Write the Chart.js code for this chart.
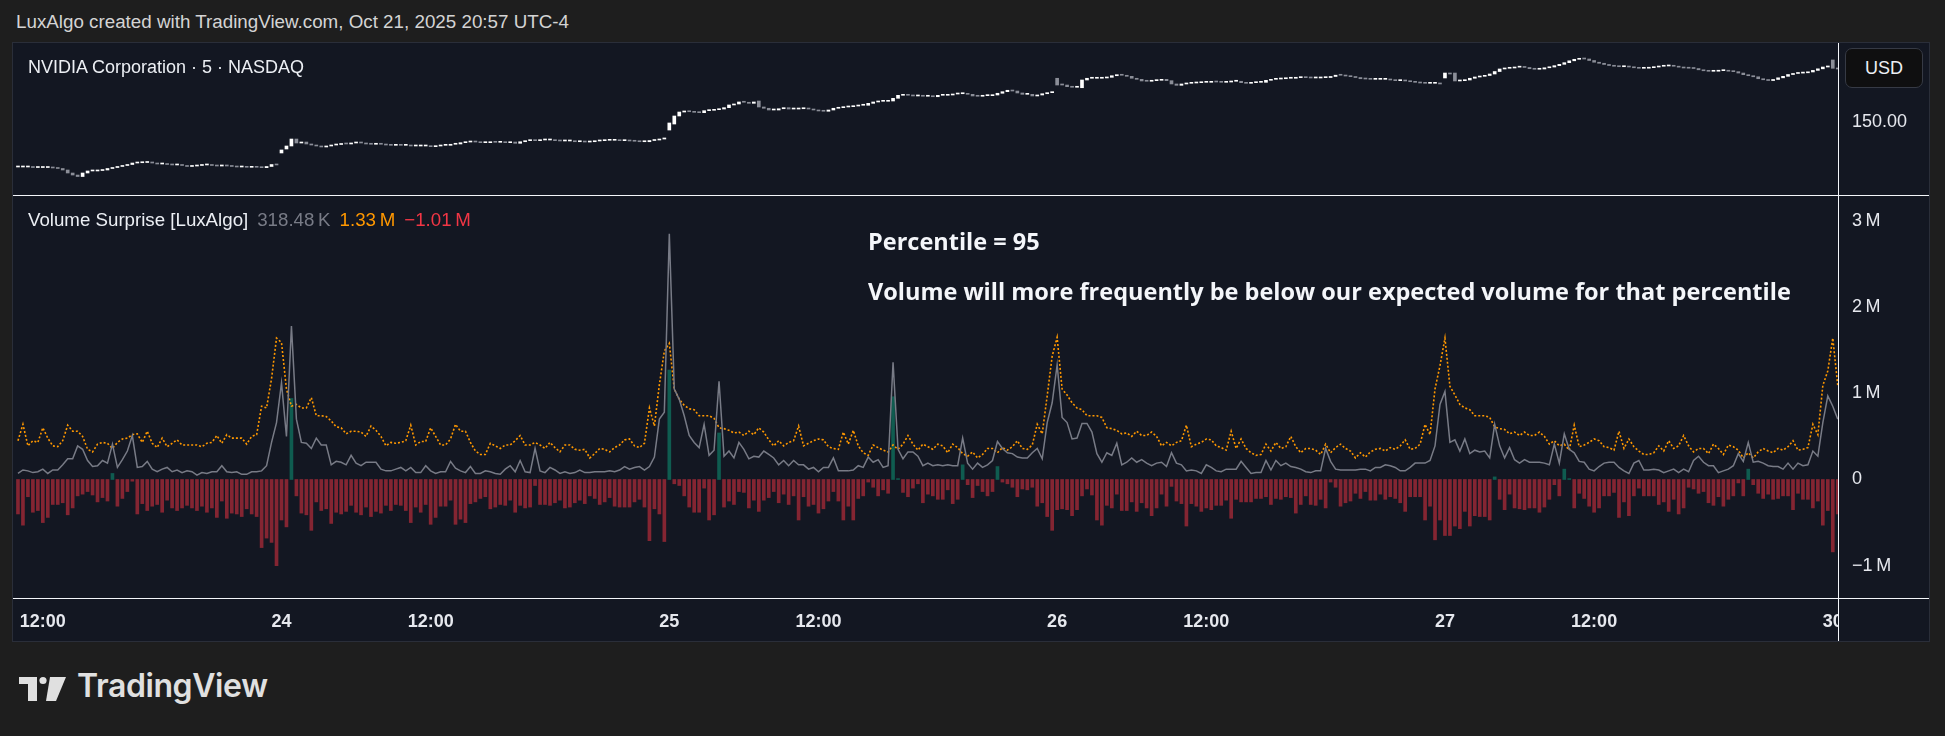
<!DOCTYPE html>
<html>
<head>
<meta charset="utf-8">
<script src="https://cdn.jsdelivr.net/npm/chart.js@4.4.1/dist/chart.umd.min.js"></script>
<style>
  body { margin: 0; background: #1e1e1e; width: 1945px; height: 736px; overflow: hidden;
         font-family: "Liberation Sans", Arial, sans-serif; color: #e6e8ee; }
  .abs { position: absolute; white-space: nowrap; }
  #header { left: 16px; top: 10px; font-size: 18.8px; line-height: 24px; color: #d4d4d4; }
  #frame { left: 12px; top: 42px; width: 1916px; height: 598px; border: 1px solid #2a2e39; background: #131722; }
  #priceCanvas { position: absolute; left: 13px; top: 43px; }
  #volCanvas { position: absolute; left: 13px; top: 196px; }
  .hline { position: absolute; left: 13px; width: 1916px; height: 1px; background: #f4f6fa; }
  #vline { position: absolute; left: 1838px; top: 43px; width: 1px; height: 598px; background: #f4f6fa; }
  #timeMask { position: absolute; left: 1839px; top: 599px; width: 90px; height: 42px; background: #131722; }
  #symbol { left: 28px; top: 55px; font-size: 18px; line-height: 24px; color: #eceff4; }
  #legend { left: 28px; top: 208px; font-size: 18.7px; line-height: 24px; color: #eceff4; }
  #legend span { margin-left: 9px; }
  .note { left: 868px; font-family: "Open Sans", sans-serif; font-weight: 700; font-size: 23.5px; line-height: 30px; color: #f4f6fa; }
  #usd { left: 1845px; top: 48px; width: 76px; height: 38px; border: 1px solid #363a45; border-radius: 7px;
         background: #0f0f10; font-size: 18px; line-height: 38px; text-align: center; color: #eceff4; }
  #brand { left: 77px; top: 666px; font-family: Inter, sans-serif; font-weight: 600; font-size: 32px; line-height: 40px; color: #e0e0e0; letter-spacing: -0.4px; }
</style>
</head>
<body>
<div id="header" class="abs">LuxAlgo created with TradingView.com, Oct 21, 2025 20:57 UTC-4</div>
<div id="frame" class="abs"></div>
<canvas id="priceCanvas" width="1916" height="152"></canvas>
<canvas id="volCanvas" width="1916" height="445"></canvas>
<div id="timeMask"></div>
<div class="hline" style="top:195px"></div>
<div class="hline" style="top:598px"></div>
<div id="vline"></div>
<div id="symbol" class="abs">NVIDIA Corporation · 5 · NASDAQ</div>
<div id="legend" class="abs">Volume Surprise [LuxAlgo]<span style="color:#787b86">318.48&#8201;K</span><span style="color:#ff9800">1.33&#8201;M</span><span style="color:#f23645">−1.01&#8201;M</span></div>
<div class="abs note" style="top:226px">Percentile = 95</div>
<div class="abs note" style="top:276px">Volume will more frequently be below our expected volume for that percentile</div>
<div id="usd" class="abs">USD</div>
<svg class="abs" style="left:18px;top:676px" width="50" height="25" viewBox="0 0 50 25">
  <path d="M1 1h18v24h-9V8H1z" fill="#e0e0e0"/>
  <circle cx="25" cy="4.5" r="3.6" fill="#e0e0e0"/>
  <path d="M32 1h16l-10 24h-10z" fill="#e0e0e0"/>
</svg>
<div id="brand" class="abs">TradingView</div>

<script>
// 5 minute bars, Jun 23 11:35 .. Jun 30 09:35 (regular session only)
var tickBars = [5, 53, 83, 131, 161, 209, 239, 287, 317, 365];
var tickLabels = ["12:00", "24", "12:00", "25", "12:00", "26", "12:00", "27", "12:00", "30"];
var priceTicks = [150];
var volTicks = [-1, 0, 1, 2, 3];

// NVDA candles (USD)
var opens = [
144.00,144.00,144.00,144.00,143.93,143.93,143.93,143.93,143.87,143.80,
143.60,143.20,142.93,142.73,143.20,143.47,143.47,143.53,143.60,143.80,
143.93,144.07,144.20,144.33,144.53,144.57,144.60,144.67,144.53,144.40,
144.40,144.33,144.27,144.27,144.20,144.07,144.13,144.20,144.27,144.27,
144.20,144.13,144.27,144.13,144.07,144.00,144.00,143.96,144.00,143.96,
143.91,144.07,144.33,145.87,146.40,146.80,147.73,147.20,147.33,147.07,
146.93,146.80,146.67,146.80,146.93,147.00,147.13,147.07,147.20,147.33,
147.20,147.07,147.03,147.07,147.03,146.93,146.89,146.93,146.89,146.89,
146.80,146.80,146.80,146.80,146.71,146.80,146.89,146.89,147.03,147.07,
147.24,147.33,147.43,147.33,147.24,147.24,147.33,147.29,147.29,147.24,
147.33,147.16,147.37,147.51,147.60,147.51,147.60,147.60,147.60,147.51,
147.47,147.47,147.47,147.37,147.37,147.33,147.37,147.47,147.51,147.56,
147.56,147.60,147.51,147.51,147.47,147.43,147.37,147.37,147.53,147.60,
147.73,148.93,149.73,150.80,151.33,151.47,151.37,151.29,151.24,151.51,
151.56,151.64,151.73,151.91,152.27,152.40,152.67,152.63,152.49,152.80,
152.00,151.83,151.60,151.60,151.77,151.91,151.73,151.73,151.77,151.83,
151.73,151.60,151.47,151.43,151.60,151.83,151.91,152.00,152.04,152.13,
152.23,152.23,152.49,152.67,152.76,152.76,152.80,153.16,153.56,153.69,
153.56,153.47,153.47,153.43,153.47,153.37,153.56,153.56,153.60,153.73,
153.77,153.77,153.69,153.47,153.43,153.51,153.51,153.60,153.83,154.04,
154.23,154.13,153.87,153.69,153.69,153.47,153.60,153.77,153.91,155.83,
155.07,154.93,154.71,154.63,154.57,155.60,155.83,155.83,155.83,155.87,
155.96,156.17,156.31,156.23,156.09,155.83,155.69,155.47,155.43,155.51,
155.56,155.69,155.51,155.07,154.89,155.07,155.16,155.20,155.24,155.29,
155.29,155.37,155.33,155.29,155.33,155.43,155.43,155.24,155.16,155.24,
155.29,155.29,155.56,155.69,155.73,155.77,155.83,155.83,155.91,155.93,
155.91,155.87,155.87,155.91,155.93,156.07,156.24,156.23,156.13,156.04,
155.93,155.77,155.73,155.69,155.69,155.69,155.69,155.60,155.51,155.51,
155.47,155.37,155.29,155.20,155.16,155.16,155.16,155.87,156.53,156.53,
155.47,155.51,155.60,155.83,156.00,156.09,156.20,156.40,156.73,157.07,
157.16,157.20,157.31,157.37,157.27,157.11,157.03,157.07,157.23,157.33,
157.51,157.69,157.91,158.16,158.36,158.44,158.40,158.20,157.97,157.83,
157.67,157.53,157.43,157.37,157.37,157.33,157.23,157.16,157.17,157.24,
157.33,157.43,157.47,157.47,157.43,157.31,157.20,157.17,157.13,156.96,
156.83,156.76,156.77,156.84,156.84,156.77,156.71,156.53,156.31,156.17,
156.03,155.77,155.63,155.53,155.67,155.89,156.09,156.33,156.47,156.52,
156.56,156.67,156.88,157.09,157.33,158.27,157.16
];
var closes = [
144.00,144.00,144.00,143.93,143.93,143.93,143.93,143.87,143.80,143.60,
143.20,142.93,142.73,143.20,143.47,143.47,143.53,143.60,143.80,143.93,
144.07,144.20,144.33,144.53,144.57,144.60,144.67,144.53,144.40,144.40,
144.33,144.27,144.27,144.20,144.07,144.13,144.20,144.27,144.27,144.20,
144.13,144.27,144.13,144.07,144.00,144.00,143.96,144.00,143.96,143.91,
144.07,144.33,144.27,146.27,146.80,147.73,147.20,147.33,147.07,146.93,
146.80,146.67,146.80,146.93,147.00,147.13,147.07,147.20,147.33,147.20,
147.07,147.03,147.07,147.03,146.93,146.89,146.93,146.89,146.89,146.80,
146.80,146.80,146.80,146.71,146.80,146.89,146.89,147.03,147.07,147.24,
147.33,147.43,147.33,147.24,147.24,147.33,147.29,147.29,147.24,147.33,
147.16,147.37,147.51,147.60,147.51,147.60,147.60,147.60,147.51,147.47,
147.47,147.47,147.37,147.37,147.33,147.37,147.47,147.51,147.56,147.56,
147.60,147.51,147.51,147.47,147.43,147.37,147.37,147.53,147.60,147.73,
147.87,149.87,150.80,151.33,151.47,151.37,151.29,151.24,151.51,151.56,
151.64,151.73,151.91,152.27,152.40,152.67,152.63,152.49,152.67,152.00,
151.83,151.60,151.60,151.77,151.91,151.73,151.73,151.77,151.83,151.73,
151.60,151.47,151.43,151.60,151.83,151.91,152.00,152.04,152.13,152.23,
152.23,152.49,152.67,152.76,152.76,152.80,153.16,153.56,153.69,153.56,
153.47,153.47,153.43,153.47,153.37,153.56,153.56,153.60,153.73,153.77,
153.77,153.69,153.47,153.43,153.51,153.51,153.60,153.83,154.04,154.23,
154.13,153.87,153.69,153.69,153.47,153.60,153.77,153.91,154.04,154.93,
154.93,154.71,154.63,154.63,155.60,155.83,155.83,155.83,155.87,155.96,
156.17,156.31,156.23,156.09,155.83,155.69,155.47,155.43,155.51,155.56,
155.69,155.51,155.07,154.89,155.07,155.16,155.20,155.24,155.29,155.29,
155.37,155.33,155.29,155.33,155.43,155.43,155.24,155.16,155.24,155.29,
155.29,155.56,155.69,155.73,155.77,155.83,155.83,155.91,155.93,155.91,
155.87,155.87,155.91,155.93,156.07,156.24,156.23,156.13,156.04,155.93,
155.77,155.73,155.69,155.69,155.69,155.69,155.60,155.51,155.51,155.47,
155.37,155.29,155.20,155.16,155.16,155.16,155.07,156.53,156.40,155.47,
155.51,155.60,155.83,156.00,156.09,156.20,156.40,156.73,157.07,157.16,
157.20,157.31,157.37,157.27,157.11,157.03,157.07,157.23,157.33,157.51,
157.69,157.91,158.16,158.36,158.44,158.40,158.20,157.97,157.83,157.67,
157.53,157.43,157.37,157.37,157.33,157.23,157.16,157.17,157.24,157.33,
157.43,157.47,157.47,157.43,157.31,157.20,157.17,157.13,156.96,156.83,
156.76,156.77,156.84,156.84,156.77,156.71,156.53,156.31,156.17,156.03,
155.77,155.63,155.53,155.67,155.89,156.09,156.33,156.47,156.52,156.56,
156.67,156.88,157.09,157.33,157.47,157.16,157.07
];

// Volume Surprise (millions of shares)
var volume = [
0.07,0.11,0.10,0.08,0.09,0.12,0.07,0.11,0.11,0.17,
0.24,0.24,0.39,0.35,0.22,0.15,0.16,0.22,0.19,0.41,
0.14,0.23,0.33,0.51,0.14,0.15,0.21,0.12,0.09,0.12,
0.14,0.09,0.11,0.08,0.10,0.09,0.05,0.08,0.07,0.09,
0.09,0.16,0.09,0.08,0.09,0.06,0.06,0.09,0.09,0.10,
0.16,0.43,0.66,1.12,0.50,1.78,0.70,0.43,0.42,0.36,
0.48,0.40,0.40,0.17,0.21,0.20,0.17,0.28,0.19,0.16,
0.20,0.20,0.20,0.12,0.10,0.10,0.12,0.14,0.10,0.14,
0.08,0.08,0.16,0.10,0.07,0.09,0.09,0.21,0.13,0.10,
0.08,0.15,0.07,0.07,0.10,0.09,0.07,0.06,0.12,0.16,
0.09,0.22,0.09,0.08,0.36,0.10,0.08,0.14,0.11,0.07,
0.09,0.07,0.08,0.11,0.08,0.08,0.09,0.09,0.09,0.10,
0.09,0.11,0.15,0.12,0.14,0.15,0.11,0.15,0.26,0.70,
0.78,2.85,1.05,0.93,0.74,0.51,0.43,0.37,0.64,0.28,
0.34,1.14,0.27,0.33,0.25,0.43,0.35,0.24,0.27,0.26,
0.33,0.29,0.25,0.17,0.22,0.16,0.22,0.17,0.17,0.12,
0.14,0.09,0.14,0.14,0.25,0.10,0.10,0.10,0.11,0.16,
0.14,0.26,0.20,0.23,0.14,0.16,1.36,0.35,0.24,0.32,
0.32,0.27,0.16,0.19,0.16,0.17,0.16,0.17,0.16,0.16,
0.48,0.19,0.12,0.19,0.14,0.17,0.22,0.44,0.36,0.31,
0.30,0.26,0.25,0.25,0.31,0.36,0.24,0.66,0.89,1.33,
0.72,0.66,0.47,0.48,0.65,0.65,0.55,0.30,0.20,0.31,
0.28,0.42,0.17,0.20,0.25,0.20,0.23,0.19,0.16,0.19,
0.20,0.15,0.31,0.19,0.17,0.10,0.11,0.10,0.07,0.17,
0.14,0.10,0.09,0.12,0.12,0.12,0.21,0.14,0.07,0.08,
0.08,0.22,0.11,0.22,0.16,0.19,0.15,0.14,0.12,0.09,
0.08,0.10,0.10,0.36,0.21,0.12,0.11,0.11,0.11,0.11,
0.12,0.12,0.10,0.14,0.14,0.17,0.16,0.14,0.10,0.10,
0.14,0.19,0.19,0.19,0.22,0.39,0.87,1.02,0.43,0.46,
0.33,0.47,0.30,0.34,0.32,0.33,0.25,0.64,0.39,0.25,
0.37,0.23,0.19,0.23,0.20,0.20,0.20,0.19,0.17,0.41,
0.19,0.53,0.35,0.31,0.21,0.20,0.12,0.10,0.15,0.19,
0.20,0.20,0.14,0.10,0.07,0.19,0.22,0.11,0.11,0.12,
0.11,0.08,0.10,0.12,0.08,0.12,0.09,0.22,0.27,0.20,
0.16,0.16,0.08,0.10,0.12,0.16,0.30,0.21,0.43,0.20,
0.21,0.19,0.16,0.15,0.15,0.12,0.19,0.12,0.19,0.16,
0.17,0.33,0.27,0.66,0.97,0.85,0.70
];
var expected = [
0.45,0.64,0.39,0.45,0.43,0.60,0.48,0.39,0.38,0.45,
0.63,0.56,0.56,0.50,0.35,0.32,0.41,0.43,0.42,0.36,
0.43,0.47,0.48,0.52,0.53,0.43,0.56,0.42,0.37,0.48,
0.38,0.42,0.46,0.40,0.40,0.40,0.40,0.38,0.42,0.43,
0.51,0.42,0.52,0.48,0.48,0.48,0.41,0.50,0.52,0.85,
0.83,1.17,1.64,1.59,1.05,0.85,0.87,0.83,0.83,0.95,
0.74,0.74,0.73,0.68,0.61,0.60,0.53,0.56,0.56,0.55,
0.50,0.62,0.57,0.50,0.39,0.43,0.42,0.43,0.45,0.63,
0.40,0.44,0.44,0.60,0.50,0.40,0.40,0.47,0.64,0.56,
0.56,0.43,0.33,0.29,0.29,0.42,0.39,0.36,0.40,0.40,
0.45,0.51,0.40,0.40,0.43,0.40,0.36,0.43,0.37,0.32,
0.40,0.40,0.35,0.34,0.35,0.25,0.30,0.36,0.35,0.32,
0.37,0.40,0.46,0.47,0.39,0.37,0.42,0.83,0.62,1.10,
1.49,1.58,1.05,0.93,0.86,0.82,0.81,0.74,0.74,0.74,
0.71,0.60,0.59,0.57,0.54,0.55,0.51,0.56,0.52,0.60,
0.55,0.46,0.39,0.45,0.39,0.43,0.45,0.62,0.39,0.42,
0.45,0.47,0.46,0.38,0.36,0.35,0.55,0.41,0.57,0.39,
0.31,0.28,0.40,0.37,0.34,0.32,0.40,0.35,0.41,0.51,
0.41,0.34,0.41,0.38,0.35,0.41,0.39,0.31,0.41,0.37,
0.30,0.27,0.32,0.25,0.29,0.36,0.36,0.31,0.37,0.34,
0.38,0.45,0.36,0.35,0.40,0.64,0.53,0.97,1.43,1.65,
1.05,0.98,0.89,0.83,0.81,0.74,0.74,0.74,0.72,0.60,
0.59,0.57,0.53,0.54,0.50,0.56,0.51,0.51,0.55,0.50,
0.39,0.43,0.39,0.43,0.45,0.63,0.38,0.41,0.43,0.47,
0.46,0.39,0.37,0.34,0.56,0.36,0.47,0.36,0.31,0.28,
0.29,0.41,0.33,0.43,0.36,0.38,0.50,0.38,0.31,0.36,
0.36,0.34,0.29,0.41,0.31,0.37,0.41,0.36,0.33,0.25,
0.31,0.26,0.32,0.35,0.36,0.33,0.37,0.35,0.39,0.46,
0.35,0.36,0.41,0.64,0.52,1.05,1.32,1.64,1.08,0.98,
0.87,0.83,0.81,0.74,0.74,0.74,0.72,0.61,0.59,0.58,
0.53,0.55,0.51,0.55,0.51,0.51,0.55,0.50,0.41,0.45,
0.39,0.41,0.34,0.63,0.38,0.40,0.43,0.47,0.45,0.38,
0.37,0.34,0.56,0.36,0.47,0.38,0.33,0.29,0.29,0.31,
0.39,0.33,0.45,0.36,0.39,0.51,0.39,0.32,0.36,0.36,
0.30,0.41,0.36,0.29,0.40,0.38,0.34,0.25,0.31,0.25,
0.32,0.36,0.33,0.31,0.36,0.34,0.38,0.45,0.34,0.35,
0.37,0.64,0.52,1.09,1.26,1.64,1.09
];
var surprise = [
-0.40,-0.53,-0.20,-0.38,-0.36,-0.50,-0.44,-0.29,-0.29,-0.27,
-0.41,-0.33,-0.19,-0.17,-0.14,-0.18,-0.26,-0.21,-0.25,0.07,
-0.31,-0.22,-0.14,-0.02,-0.40,-0.28,-0.36,-0.31,-0.29,-0.38,
-0.24,-0.33,-0.36,-0.33,-0.30,-0.33,-0.36,-0.31,-0.38,-0.33,
-0.44,-0.25,-0.45,-0.39,-0.40,-0.43,-0.34,-0.40,-0.43,-0.79,
-0.68,-0.73,-1.00,-0.47,-0.55,0.94,-0.19,-0.39,-0.41,-0.59,
-0.26,-0.36,-0.34,-0.51,-0.38,-0.40,-0.37,-0.30,-0.38,-0.41,
-0.32,-0.43,-0.37,-0.39,-0.30,-0.36,-0.29,-0.30,-0.36,-0.50,
-0.32,-0.38,-0.29,-0.52,-0.44,-0.31,-0.31,-0.24,-0.52,-0.46,
-0.50,-0.28,-0.26,-0.22,-0.20,-0.34,-0.32,-0.29,-0.30,-0.24,
-0.38,-0.30,-0.33,-0.32,-0.07,-0.29,-0.29,-0.30,-0.27,-0.24,
-0.33,-0.32,-0.27,-0.24,-0.28,-0.19,-0.22,-0.29,-0.26,-0.21,
-0.31,-0.32,-0.32,-0.32,-0.26,-0.23,-0.32,-0.71,-0.34,-0.40,
-0.72,1.27,-0.05,-0.07,-0.19,-0.32,-0.38,-0.38,-0.10,-0.47,
-0.41,0.54,-0.32,-0.25,-0.29,-0.14,-0.15,-0.33,-0.24,-0.37,
-0.24,-0.21,-0.14,-0.27,-0.17,-0.29,-0.19,-0.47,-0.20,-0.31,
-0.29,-0.39,-0.34,-0.25,-0.14,-0.25,-0.47,-0.31,-0.47,-0.22,
-0.19,-0.03,-0.09,-0.19,-0.12,-0.16,0.96,0.01,-0.15,-0.20,
-0.10,-0.05,-0.27,-0.17,-0.19,-0.23,-0.23,-0.12,-0.28,-0.23,
0.17,-0.06,-0.21,-0.07,-0.14,-0.19,-0.14,0.15,-0.03,-0.05,
-0.09,-0.20,-0.11,-0.12,-0.09,-0.31,-0.27,-0.43,-0.59,-0.35,
-0.34,-0.35,-0.42,-0.35,-0.19,-0.11,-0.18,-0.47,-0.53,-0.30,
-0.33,-0.17,-0.36,-0.36,-0.26,-0.37,-0.27,-0.33,-0.42,-0.33,
-0.17,-0.31,-0.08,-0.25,-0.28,-0.54,-0.28,-0.31,-0.37,-0.33,
-0.35,-0.30,-0.30,-0.24,-0.45,-0.23,-0.26,-0.26,-0.26,-0.22,
-0.22,-0.20,-0.29,-0.22,-0.23,-0.20,-0.21,-0.39,-0.29,-0.19,
-0.29,-0.30,-0.23,-0.33,-0.03,-0.09,-0.31,-0.27,-0.25,-0.16,
-0.22,-0.14,-0.24,-0.24,-0.17,-0.23,-0.20,-0.22,-0.27,-0.37,
-0.20,-0.20,-0.20,-0.47,-0.31,-0.70,-0.47,-0.65,-0.65,-0.54,
-0.57,-0.37,-0.54,-0.42,-0.43,-0.43,-0.47,0.03,-0.23,-0.35,
-0.17,-0.33,-0.34,-0.35,-0.33,-0.33,-0.38,-0.32,-0.23,-0.06,
-0.19,0.12,0.01,-0.33,-0.16,-0.22,-0.31,-0.38,-0.33,-0.19,
-0.19,-0.15,-0.44,-0.26,-0.42,-0.19,-0.10,-0.19,-0.19,-0.19,
-0.29,-0.26,-0.37,-0.23,-0.40,-0.33,-0.09,-0.11,-0.16,-0.14,
-0.27,-0.30,-0.20,-0.31,-0.23,-0.19,-0.04,-0.19,0.12,-0.06,
-0.16,-0.22,-0.17,-0.23,-0.22,-0.19,-0.19,-0.35,-0.16,-0.23,
-0.23,-0.33,-0.25,-0.53,-0.36,-0.84,-0.40
];

var axisFont = { family: "'Liberation Sans', Arial, sans-serif", size: 18 };
var axisColor = "#e6e8ee";

// keep the plot area exactly where the panes are, no label padding
function fixY(scale) {
    scale.width = 91;
    scale.paddingTop = 0;
    scale.paddingBottom = 0;
}

function fixX(scale) {
    scale.height = 43;
    scale.paddingLeft = 0;
    scale.paddingRight = 0;
}

function pts(arr) {
    return arr.map(function (v, i) { return { x: i, y: v }; });
}

// price pane
var candles = opens.map(function (o, i) { return { x: i, y: [o, closes[i]] }; });
var candleColors = opens.map(function (o, i) { return closes[i] >= o ? "#ffffff" : "#8b8e98"; });

new Chart(document.getElementById("priceCanvas"), {
    type: "bar",
    data: {
        datasets: [{
            data: candles,
            backgroundColor: candleColors,
            barThickness: 3,
            minBarLength: 1
        }]
    },
    options: {
        responsive: false,
        animation: false,
        layout: { padding: 0 },
        plugins: { legend: { display: false }, tooltip: { enabled: false } },
        scales: {
            x: { type: "linear", offset: false, min: -1, max: 366.05, display: false },
            y: {
                position: "right",
                min: 140.267,
                max: 160.533,
                grid: { display: false, drawTicks: false },
                border: { display: false },
                afterBuildTicks: function (s) { s.ticks = priceTicks.map(function (v) { return { value: v }; }); },
                afterFit: fixY,
                ticks: {
                    color: axisColor, font: axisFont, padding: 14, crossAlign: "near",
                    callback: function (v) { return v.toFixed(2); }
                }
            }
        }
    }
});

// volume surprise pane
var barColors = surprise.map(function (v) { return v >= 0 ? "#0f5c50" : "#842532"; });

new Chart(document.getElementById("volCanvas"), {
    type: "bar",
    data: {
        datasets: [
            {
                type: "line",
                data: pts(volume),
                borderColor: "#787b86",
                borderWidth: 1.5,
                pointRadius: 0,
                tension: 0,
                order: 0
            },
            {
                type: "line",
                data: pts(expected),
                borderColor: "#ff9800",
                borderWidth: 1.6,
                borderDash: [2, 2],
                pointRadius: 0,
                tension: 0,
                order: 1
            },
            {
                type: "bar",
                data: pts(surprise),
                backgroundColor: barColors,
                barThickness: 3,
                order: 2
            }
        ]
    },
    options: {
        responsive: false,
        animation: false,
        layout: { padding: 0 },
        plugins: { legend: { display: false }, tooltip: { enabled: false } },
        scales: {
            x: {
                type: "linear",
                offset: false,
                min: -1,
                max: 366.05,
                grid: { display: false, drawTicks: false },
                border: { display: false },
                afterBuildTicks: function (s) { s.ticks = tickBars.map(function (v) { return { value: v }; }); },
                afterFit: fixX,
                ticks: {
                    color: axisColor,
                    font: { family: axisFont.family, size: 18, weight: "bold" },
                    padding: 13,
                    maxRotation: 0,
                    autoSkip: false,
                    callback: function (v, i) { return tickLabels[i]; }
                }
            },
            y: {
                position: "right",
                min: -1.375,
                max: 3.289,
                grid: { display: false, drawTicks: false },
                border: { display: false },
                afterBuildTicks: function (s) { s.ticks = volTicks.map(function (v) { return { value: v }; }); },
                afterFit: fixY,
                ticks: {
                    color: axisColor, font: axisFont, padding: 14, crossAlign: "near",
                    callback: function (v) {
                        if (v === 0) return "0";
                        return (v < 0 ? "\u2212" : "") + Math.abs(v) + "\u2009M";
                    }
                }
            }
        }
    }
});
</script>
</body>
</html>
